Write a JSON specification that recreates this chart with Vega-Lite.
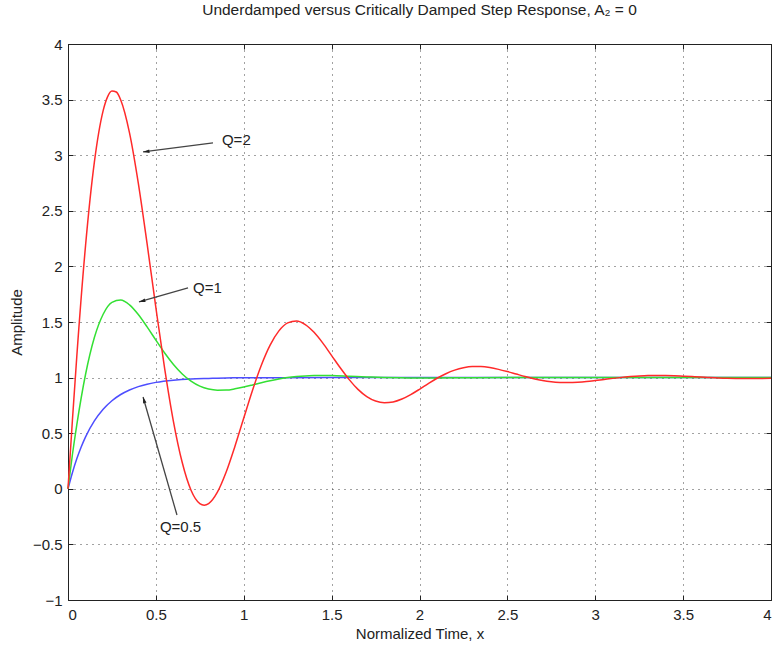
{
  "$schema": "https://vega.github.io/schema/vega-lite/v6.json",
  "width": 703,
  "height": 556,
  "autosize": {"type": "none"},
  "padding": {"left": 68, "top": 44, "right": 2, "bottom": 45},
  "background": "white",
  "config": {"font": "Liberation Sans", "view": {"stroke": null}},
  "title": {"text": "Underdamped versus Critically Damped Step Response, A₂ = 0", "fontSize": 15.5, "fontWeight": "normal", "color": "#222", "offset": 19},
  "datasets": {
    "curves": [
      {"q": "Q=0.5", "x": 0, "y": 0}, {"q": "Q=0.5", "x": 0.025, "y": 0.145}, {"q": "Q=0.5", "x": 0.05, "y": 0.27}, {"q": "Q=0.5", "x": 0.075, "y": 0.376},
      {"q": "Q=0.5", "x": 0.1, "y": 0.467}, {"q": "Q=0.5", "x": 0.15, "y": 0.61}, {"q": "Q=0.5", "x": 0.2, "y": 0.715}, {"q": "Q=0.5", "x": 0.25, "y": 0.792},
      {"q": "Q=0.5", "x": 0.3, "y": 0.848}, {"q": "Q=0.5", "x": 0.35, "y": 0.889}, {"q": "Q=0.5", "x": 0.4, "y": 0.919}, {"q": "Q=0.5", "x": 0.45, "y": 0.941},
      {"q": "Q=0.5", "x": 0.5, "y": 0.957}, {"q": "Q=0.5", "x": 0.6, "y": 0.977}, {"q": "Q=0.5", "x": 0.7, "y": 0.988}, {"q": "Q=0.5", "x": 0.8, "y": 0.993},
      {"q": "Q=0.5", "x": 0.9, "y": 0.997}, {"q": "Q=0.5", "x": 1, "y": 0.998}, {"q": "Q=0.5", "x": 1.2, "y": 0.9995}, {"q": "Q=0.5", "x": 1.5, "y": 1},
      {"q": "Q=0.5", "x": 2, "y": 1}, {"q": "Q=0.5", "x": 3, "y": 1}, {"q": "Q=0.5", "x": 4, "y": 1},
      {"q": "Q=1", "x": 0, "y": 0}, {"q": "Q=1", "x": 0.025, "y": 0.306}, {"q": "Q=1", "x": 0.05, "y": 0.575}, {"q": "Q=1", "x": 0.1, "y": 1.03},
      {"q": "Q=1", "x": 0.15, "y": 1.36}, {"q": "Q=1", "x": 0.2, "y": 1.57}, {"q": "Q=1", "x": 0.25, "y": 1.677}, {"q": "Q=1", "x": 0.3, "y": 1.698},
      {"q": "Q=1", "x": 0.35, "y": 1.654}, {"q": "Q=1", "x": 0.4, "y": 1.567}, {"q": "Q=1", "x": 0.45, "y": 1.456}, {"q": "Q=1", "x": 0.5, "y": 1.337},
      {"q": "Q=1", "x": 0.55, "y": 1.221}, {"q": "Q=1", "x": 0.6, "y": 1.118}, {"q": "Q=1", "x": 0.65, "y": 1.033}, {"q": "Q=1", "x": 0.7, "y": 0.968},
      {"q": "Q=1", "x": 0.75, "y": 0.923}, {"q": "Q=1", "x": 0.8, "y": 0.897}, {"q": "Q=1", "x": 0.85, "y": 0.887}, {"q": "Q=1", "x": 0.9, "y": 0.888},
      {"q": "Q=1", "x": 0.95, "y": 0.899}, {"q": "Q=1", "x": 1, "y": 0.915}, {"q": "Q=1", "x": 1.05, "y": 0.934}, {"q": "Q=1", "x": 1.1, "y": 0.954},
      {"q": "Q=1", "x": 1.15, "y": 0.972}, {"q": "Q=1", "x": 1.2, "y": 0.987}, {"q": "Q=1", "x": 1.25, "y": 1.0}, {"q": "Q=1", "x": 1.3, "y": 1.009},
      {"q": "Q=1", "x": 1.35, "y": 1.015}, {"q": "Q=1", "x": 1.4, "y": 1.018}, {"q": "Q=1", "x": 1.45, "y": 1.019}, {"q": "Q=1", "x": 1.5, "y": 1.018},
      {"q": "Q=1", "x": 1.6, "y": 1.012}, {"q": "Q=1", "x": 1.7, "y": 1.006}, {"q": "Q=1", "x": 1.8, "y": 1.001}, {"q": "Q=1", "x": 1.9, "y": 0.998},
      {"q": "Q=1", "x": 2, "y": 0.997}, {"q": "Q=1", "x": 2.2, "y": 0.998}, {"q": "Q=1", "x": 2.5, "y": 1.0}, {"q": "Q=1", "x": 3, "y": 1},
      {"q": "Q=1", "x": 3.5, "y": 1}, {"q": "Q=1", "x": 4, "y": 1},
      {"q": "Q=2", "x": 0, "y": 0}, {"q": "Q=2", "x": 0.025, "y": 0.614}, {"q": "Q=2", "x": 0.05, "y": 1.19}, {"q": "Q=2", "x": 0.1, "y": 2.19},
      {"q": "Q=2", "x": 0.15, "y": 2.937}, {"q": "Q=2", "x": 0.2, "y": 3.401}, {"q": "Q=2", "x": 0.225, "y": 3.525}, {"q": "Q=2", "x": 0.25, "y": 3.578},
      {"q": "Q=2", "x": 0.275, "y": 3.568}, {"q": "Q=2", "x": 0.3, "y": 3.497}, {"q": "Q=2", "x": 0.35, "y": 3.201}, {"q": "Q=2", "x": 0.4, "y": 2.749},
      {"q": "Q=2", "x": 0.45, "y": 2.204}, {"q": "Q=2", "x": 0.5, "y": 1.629}, {"q": "Q=2", "x": 0.55, "y": 1.081}, {"q": "Q=2", "x": 0.6, "y": 0.605},
      {"q": "Q=2", "x": 0.65, "y": 0.236}, {"q": "Q=2", "x": 0.7, "y": -0.013}, {"q": "Q=2", "x": 0.75, "y": -0.133}, {"q": "Q=2", "x": 0.775, "y": -0.147},
      {"q": "Q=2", "x": 0.8, "y": -0.133}, {"q": "Q=2", "x": 0.85, "y": -0.03}, {"q": "Q=2", "x": 0.9, "y": 0.151}, {"q": "Q=2", "x": 0.95, "y": 0.383},
      {"q": "Q=2", "x": 1, "y": 0.636}, {"q": "Q=2", "x": 1.05, "y": 0.887}, {"q": "Q=2", "x": 1.1, "y": 1.111}, {"q": "Q=2", "x": 1.15, "y": 1.292},
      {"q": "Q=2", "x": 1.2, "y": 1.42}, {"q": "Q=2", "x": 1.25, "y": 1.492}, {"q": "Q=2", "x": 1.3, "y": 1.509}, {"q": "Q=2", "x": 1.35, "y": 1.477},
      {"q": "Q=2", "x": 1.4, "y": 1.407}, {"q": "Q=2", "x": 1.45, "y": 1.31}, {"q": "Q=2", "x": 1.5, "y": 1.198}, {"q": "Q=2", "x": 1.55, "y": 1.086},
      {"q": "Q=2", "x": 1.6, "y": 0.982}, {"q": "Q=2", "x": 1.65, "y": 0.894}, {"q": "Q=2", "x": 1.7, "y": 0.829}, {"q": "Q=2", "x": 1.75, "y": 0.789},
      {"q": "Q=2", "x": 1.8, "y": 0.774}, {"q": "Q=2", "x": 1.85, "y": 0.781}, {"q": "Q=2", "x": 1.9, "y": 0.807}, {"q": "Q=2", "x": 1.95, "y": 0.847},
      {"q": "Q=2", "x": 2, "y": 0.895}, {"q": "Q=2", "x": 2.05, "y": 0.946}, {"q": "Q=2", "x": 2.1, "y": 0.994}, {"q": "Q=2", "x": 2.15, "y": 1.035},
      {"q": "Q=2", "x": 2.2, "y": 1.067}, {"q": "Q=2", "x": 2.25, "y": 1.089}, {"q": "Q=2", "x": 2.3, "y": 1.1}, {"q": "Q=2", "x": 2.35, "y": 1.099},
      {"q": "Q=2", "x": 2.4, "y": 1.09}, {"q": "Q=2", "x": 2.45, "y": 1.074}, {"q": "Q=2", "x": 2.5, "y": 1.054}, {"q": "Q=2", "x": 2.55, "y": 1.032},
      {"q": "Q=2", "x": 2.6, "y": 1.01}, {"q": "Q=2", "x": 2.65, "y": 0.99}, {"q": "Q=2", "x": 2.7, "y": 0.974}, {"q": "Q=2", "x": 2.75, "y": 0.963},
      {"q": "Q=2", "x": 2.8, "y": 0.957}, {"q": "Q=2", "x": 2.85, "y": 0.955}, {"q": "Q=2", "x": 2.9, "y": 0.958}, {"q": "Q=2", "x": 2.95, "y": 0.964},
      {"q": "Q=2", "x": 3, "y": 0.973}, {"q": "Q=2", "x": 3.05, "y": 0.983}, {"q": "Q=2", "x": 3.1, "y": 0.993}, {"q": "Q=2", "x": 3.15, "y": 1.002},
      {"q": "Q=2", "x": 3.2, "y": 1.009}, {"q": "Q=2", "x": 3.25, "y": 1.015}, {"q": "Q=2", "x": 3.3, "y": 1.019}, {"q": "Q=2", "x": 3.35, "y": 1.02},
      {"q": "Q=2", "x": 3.4, "y": 1.019}, {"q": "Q=2", "x": 3.45, "y": 1.017}, {"q": "Q=2", "x": 3.5, "y": 1.013}, {"q": "Q=2", "x": 3.55, "y": 1.009},
      {"q": "Q=2", "x": 3.6, "y": 1.005}, {"q": "Q=2", "x": 3.65, "y": 1.0}, {"q": "Q=2", "x": 3.7, "y": 0.997}, {"q": "Q=2", "x": 3.75, "y": 0.994},
      {"q": "Q=2", "x": 3.8, "y": 0.992}, {"q": "Q=2", "x": 3.85, "y": 0.991}, {"q": "Q=2", "x": 3.9, "y": 0.991}, {"q": "Q=2", "x": 3.95, "y": 0.992},
      {"q": "Q=2", "x": 4, "y": 0.994}
    ],
    "notes": [
      {"label": "Q=2", "tx": 0.876, "ty": 3.137, "ax": 0.825, "ay": 3.11, "bx": 0.427, "by": 3.029},
      {"label": "Q=1", "tx": 0.711, "ty": 1.806, "ax": 0.683, "ay": 1.806, "bx": 0.404, "by": 1.68},
      {"label": "Q=0.5", "tx": 0.523, "ty": -0.343, "ax": 0.62, "ay": -0.236, "bx": 0.427, "by": 0.826}
    ]
  },
  "resolve": {"axis": {"x": "independent", "y": "independent"}},
  "layer": [
    {
      "data": {"name": "curves"},
      "mark": {"type": "line", "interpolate": "monotone", "strokeWidth": 1.5},
      "encoding": {
        "x": {"field": "x", "type": "quantitative", "scale": {"domain": [0, 4], "nice": false, "zero": false},
          "axis": {"title": "Normalized Time, x", "values": [0, 0.5, 1, 1.5, 2, 2.5, 3, 3.5, 4], "format": "~g",
            "grid": true, "gridDash": [1, 5], "gridColor": "#444", "gridWidth": 1,
            "tickSize": -5, "tickColor": "#222", "domainColor": "#222", "labelPadding": 12,
            "labelFontSize": 15, "labelColor": "#222", "titleFontSize": 15, "titleFontWeight": "normal", "titleColor": "#222", "titlePadding": 4}},
        "y": {"field": "y", "type": "quantitative", "scale": {"domain": [-1, 4], "nice": false, "zero": false},
          "axis": {"title": "Amplitude", "values": [-1, -0.5, 0, 0.5, 1, 1.5, 2, 2.5, 3, 3.5, 4], "format": "~g",
            "grid": true, "gridDash": [1, 5], "gridColor": "#444", "gridWidth": 1,
            "tickSize": -5, "tickColor": "#222", "domainColor": "#222", "labelPadding": 11,
            "labelFontSize": 15, "labelColor": "#222", "titleFontSize": 15, "titleFontWeight": "normal", "titleColor": "#222", "titlePadding": 8}},
        "color": {"field": "q", "type": "nominal", "legend": null,
          "scale": {"domain": ["Q=0.5", "Q=1", "Q=2"], "range": ["#4d4dff", "#33e033", "#ff2a2a"]}}
      }
    },
    {
      "data": {"name": "curves"},
      "mark": {"type": "point", "opacity": 0},
      "encoding": {
        "x": {"field": "x", "type": "quantitative",
          "axis": {"orient": "top", "title": null, "labels": false, "grid": false, "values": [0, 0.5, 1, 1.5, 2, 2.5, 3, 3.5, 4], "tickSize": -5, "tickColor": "#222", "domainColor": "#222"}},
        "y": {"field": "y", "type": "quantitative",
          "axis": {"orient": "right", "title": null, "labels": false, "grid": false, "values": [-1, -0.5, 0, 0.5, 1, 1.5, 2, 2.5, 3, 3.5, 4], "tickSize": -5, "tickColor": "#222", "domainColor": "#222"}}
      }
    },
    {
      "data": {"name": "notes"},
      "mark": {"type": "rule", "color": "#444", "strokeWidth": 1.3},
      "encoding": {
        "x": {"field": "ax", "type": "quantitative", "axis": null},
        "y": {"field": "ay", "type": "quantitative", "axis": null},
        "x2": {"field": "bx"},
        "y2": {"field": "by"}
      }
    },
    {
      "data": {"name": "notes"},
      "transform": [{"filter": "datum.label === 'Q=2'"}],
      "mark": {"type": "point", "shape": "M0,0L0.45,1.6L-0.45,1.6Z", "filled": true, "color": "#222", "opacity": 1, "size": 64, "angle": 262.7},
      "encoding": {"x": {"field": "bx", "type": "quantitative", "axis": null}, "y": {"field": "by", "type": "quantitative", "axis": null}}
    },
    {
      "data": {"name": "notes"},
      "transform": [{"filter": "datum.label === 'Q=1'"}],
      "mark": {"type": "point", "shape": "M0,0L0.45,1.6L-0.45,1.6Z", "filled": true, "color": "#222", "opacity": 1, "size": 64, "angle": 254},
      "encoding": {"x": {"field": "bx", "type": "quantitative", "axis": null}, "y": {"field": "by", "type": "quantitative", "axis": null}}
    },
    {
      "data": {"name": "notes"},
      "transform": [{"filter": "datum.label === 'Q=0.5'"}],
      "mark": {"type": "point", "shape": "M0,0L0.45,1.6L-0.45,1.6Z", "filled": true, "color": "#222", "opacity": 1, "size": 64, "angle": 344},
      "encoding": {"x": {"field": "bx", "type": "quantitative", "axis": null}, "y": {"field": "by", "type": "quantitative", "axis": null}}
    },
    {
      "data": {"name": "notes"},
      "mark": {"type": "text", "align": "left", "baseline": "middle", "fontSize": 15, "color": "#222"},
      "encoding": {
        "x": {"field": "tx", "type": "quantitative", "axis": null},
        "y": {"field": "ty", "type": "quantitative", "axis": null},
        "text": {"field": "label"}
      }
    }
  ]
}
